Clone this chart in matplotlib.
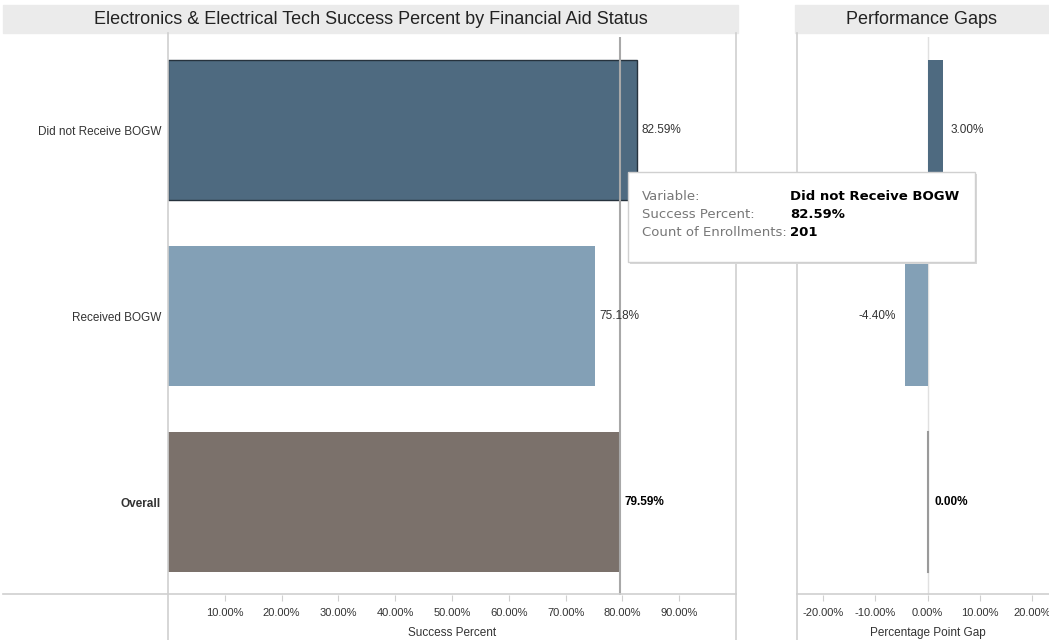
import matplotlib.pyplot as plt
from matplotlib.lines import Line2D
from matplotlib.patches import FancyBboxPatch

plt.rcParams['font.family'] = ['Liberation Sans', 'DejaVu Sans']

categories = ["Did not Receive BOGW", "Received BOGW", "Overall"]
success_pct = [82.59, 75.18, 79.59]
gap_pct = [3.00, -4.40, 0.00]
bar_colors = ["#4e6a80", "#83a0b6", "#7b716b"]
success_ticks = [10, 20, 30, 40, 50, 60, 70, 80, 90]
gap_ticks = [-20, -10, 0, 10, 20]

# hover tooltip for the selected bar
tip_category = categories[0]
tip_success = success_pct[0]
tip_count = 201

W, H = 1049, 640
fig = plt.figure(figsize=(W / 100, H / 100), dpi=100)


def fx(px):
    return px / W


def fy(py):
    return 1 - py / H


grid_col = "#cfcfcf"
text_col = "#333333"

ax = fig.add_axes([fx(168), fy(595), fx(736 - 168), fy(37) - fy(595)])
ax2 = fig.add_axes([fx(797), fy(595), fx(261), fy(37) - fy(595)])

rows = list(range(len(categories)))

# left panel: success percent bars
for i, (v, c) in enumerate(zip(success_pct, bar_colors)):
    edge = "#26323d" if i == 0 else "none"
    ax.barh(i, v, height=0.75, color=c, edgecolor=edge, linewidth=1.0, zorder=2)
    bold = categories[i] == "Overall"
    ax.annotate(f"{v:.2f}%", (v, i), xytext=(3, 0), textcoords="offset points",
                va="center", ha="left", fontsize=8.5,
                fontweight="bold" if bold else "normal",
                color="black" if bold else text_col, zorder=4)

overall = success_pct[categories.index("Overall")]
ax.axvline(overall, color="#a8a8a8", linewidth=1.5, zorder=3)

ax.set_xlim(0, 100)
ax.set_ylim(2.5, -0.5)
ax.set_xticks(success_ticks)
ax.set_xticklabels([f"{t:.2f}%" for t in success_ticks])
ax.set_yticks(rows)
ax.set_yticklabels(categories)
for lbl in ax.get_yticklabels():
    if lbl.get_text() == "Overall":
        lbl.set_fontweight("bold")
        lbl.set_color("black")
ax.set_xlabel("Success Percent", fontsize=8.5, color=text_col, labelpad=7)

# right panel: gaps against overall
for i, (g, c) in enumerate(zip(gap_pct, bar_colors)):
    if g == 0:
        ax2.plot([0, 0], [i - 0.375, i + 0.375], color="#9a9a9a", linewidth=1.5, zorder=2)
    else:
        ax2.barh(i, g, height=0.75, color=c, zorder=2)
    bold = categories[i] == "Overall"
    if g < 0:
        ax2.annotate(f"{g:.2f}%", (g, i), xytext=(-6, 0), textcoords="offset points",
                     va="center", ha="right", fontsize=8.5, color=text_col)
    else:
        ax2.annotate(f"{g:.2f}%", (g, i), xytext=(5, 0), textcoords="offset points",
                     va="center", ha="left", fontsize=8.5,
                     fontweight="bold" if bold else "normal",
                     color="black" if bold else text_col)

ax2.axvline(0, color="#e0e0e0", linewidth=1.0, zorder=1)
ax2.set_xlim(-25, 25)
ax2.set_ylim(2.5, -0.5)
ax2.set_xticks(gap_ticks)
ax2.set_xticklabels([f"{t:.2f}%" for t in gap_ticks])
ax2.set_yticks([])
ax2.set_xlabel("Percentage Point Gap", fontsize=8.5, color=text_col, labelpad=7)

for a in (ax, ax2):
    for s in a.spines.values():
        s.set_visible(False)
    a.tick_params(axis="x", length=4, width=0.8, color=grid_col,
                  labelsize=8, labelcolor=text_col, pad=5)
    a.tick_params(axis="y", length=0, labelsize=8.5, labelcolor=text_col, pad=5)
    a.set_facecolor("none")

# header bars
for x0, x1, title in [(3, 738, "Electronics & Electrical Tech Success Percent by Financial Aid Status"),
                      (795, 1049, "Performance Gaps")]:
    fig.patches.append(plt.Rectangle((fx(x0), fy(33)), fx(x1 - x0), fy(5) - fy(33),
                                     transform=fig.transFigure, color="#ebebeb", zorder=0))
    fig.text(fx((x0 + x1) / 2), fy(19), title, ha="center", va="center",
             fontsize=13, color="#222222")

# panel frame lines
frame = [((168, 33), (168, 640)), ((736, 33), (736, 640)), ((797, 33), (797, 640)),
         ((3, 594), (736, 594)), ((797, 594), (1049, 594))]
for (x0, y0), (x1, y1) in frame:
    fig.add_artist(Line2D([fx(x0), fx(x1)], [fy(y0), fy(y1)], color=grid_col,
                          linewidth=1.2, transform=fig.transFigure, zorder=1))

# tooltip
bx0, by0, bx1, by1 = 628, 172, 975, 262
shadow = FancyBboxPatch((fx(bx0 + 2), fy(by1 + 2)), fx(bx1 - bx0), fy(by0) - fy(by1),
                        boxstyle="square,pad=0", transform=fig.transFigure,
                        facecolor="#d8d8d8", edgecolor="none", zorder=9)
box = FancyBboxPatch((fx(bx0), fy(by1)), fx(bx1 - bx0), fy(by0) - fy(by1),
                     boxstyle="square,pad=0", transform=fig.transFigure,
                     facecolor="white", edgecolor="#d0d0d0", linewidth=1, zorder=10)
fig.add_artist(shadow)
fig.add_artist(box)
tip_rows = [("Variable:", tip_category), ("Success Percent:", f"{tip_success:.2f}%"),
            ("Count of Enrollments:", f"{tip_count}")]
for k, (lab, val) in enumerate(tip_rows):
    y = fy(197 + k * 17.5)
    fig.text(fx(642), y, lab, ha="left", va="center", fontsize=9.5,
             family="DejaVu Sans", color="#777777", zorder=11)
    fig.text(fx(790), y, val, ha="left", va="center", fontsize=9.5,
             family="DejaVu Sans", fontweight="bold", color="black", zorder=11)

fig.savefig("out.png", dpi=100)
